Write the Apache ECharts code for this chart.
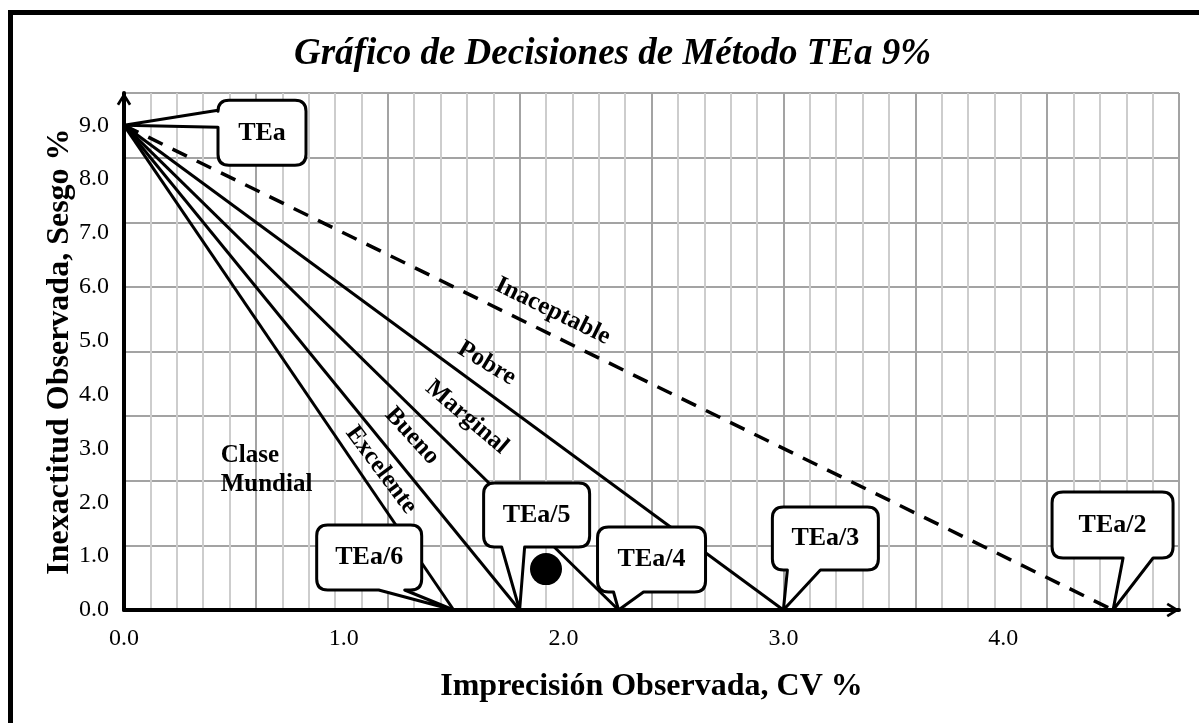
<!doctype html>
<html lang="es">
<head>
    <meta charset="utf-8">
    <title>Gráfico de Decisiones de Método</title>
    <script src="https://cdn.jsdelivr.net/npm/echarts@6/dist/echarts.min.js"></script>
    <style>
        html, body { margin: 0; padding: 0; background: #fff; }
        #main { width: 1199px; height: 723px; }
    </style>
</head>
<body>
<div id="main"></div>
<script>
    // ---- datos ----
    var tea = 9;                                   // TEa %
    var divisores = [6, 5, 4, 3, 2];               // TEa/6 ... TEa/2
    var textoGlobos = ['TEa', 'TEa/6', 'TEa/5', 'TEa/4', 'TEa/3', 'TEa/2'];
    var zonas = ['Clase\nMundial', 'Excelente', 'Bueno', 'Marginal', 'Pobre', 'Inaceptable'];
    var zonaCV = [0.44, 1.17, 1.31, 1.56, 1.65, 1.95];      // donde va cada rótulo
    var zonaSesgo = [2.60, 2.60, 3.23, 3.58, 4.58, 5.55];
    var puntoCV = [1.92];
    var puntoSesgo = [0.76];
    var xTickLabels = ['0.0', '1.0', '2.0', '3.0', '4.0'];
    var yTickLabels = ['0.0', '1.0', '2.0', '3.0', '4.0', '5.0', '6.0', '7.0', '8.0', '9.0'];

    // ---- maquetación ----
    var SERIF = '"Liberation Serif", "Times New Roman", serif';
    var GRID = {left: 124, top: 93, width: 1055, height: 517};
    var X_MAX = 4.8, Y_MAX = 9.6;
    // globos: desplazamiento de la caja respecto a la punta, tamaño, base de la cola
    var globos = [
        {dx: 94, dy: -25, w: 88, h: 65, b1: -15, b2: 2, lado: 'izq'},
        {dx: -137, dy: -85, w: 105, h: 65, b1: -75, b2: -49, lado: 'abajo'},
        {dx: -36, dy: -127, w: 106, h: 64, b1: -18, b2: 5, lado: 'abajo'},
        {dx: -21, dy: -83, w: 108, h: 65, b1: -5, b2: 25, lado: 'abajo'},
        {dx: -11, dy: -103, w: 106, h: 63, b1: 4, b2: 37, lado: 'abajo'},
        {dx: -61, dy: -118, w: 121, h: 66, b1: 10, b2: 40, lado: 'abajo'}
    ];
    var flecha = 'path://M0,80 L50,0 L100,80 L84,90 L50,34 L16,90 Z';

    var pxX = GRID.width / X_MAX, pxY = GRID.height / Y_MAX;
    function angulo(k) {
        return Math.atan(k * pxY / pxX) * 180 / Math.PI;
    }

    var series = [];
    divisores.forEach(function (k) {
        series.push({
            type: 'line',
            data: [[0, tea], [tea / k, 0]],
            symbol: 'none',
            z: 2,
            lineStyle: {color: '#000', width: k === 2 ? 3.5 : 3, type: k === 2 ? [16, 11] : 'solid'}
        });
    });

    series.push({
        type: 'scatter',
        data: puntoCV.map(function (x, i) { return [x, puntoSesgo[i]]; }),
        symbolSize: 32,
        itemStyle: {color: '#000', opacity: 1},
        z: 3
    });

    series.push({
        type: 'scatter',
        symbolSize: 0,
        z: 5,
        itemStyle: {opacity: 1},
        data: zonas.map(function (nombre, i) {
            var rot = 0;
            if (i === zonas.length - 1) rot = angulo(divisores[i - 1]);
            else if (i > 0) rot = (angulo(divisores[i - 1]) + angulo(divisores[i])) / 2;
            return {
                value: [zonaCV[i], zonaSesgo[i]],
                name: nombre,
                label: i === 0
                    ? {position: 'right', distance: 0, rotate: 0}
                    : {position: 'inside', rotate: -rot}
            };
        }),
        label: {
            show: true,
            formatter: '{b}',
            color: '#000',
            fontFamily: SERIF,
            fontWeight: 'bold',
            fontSize: 25,
            lineHeight: 29
        }
    });

    var puntas = [[0, tea]].concat(divisores.map(function (k) { return [tea / k, 0]; }));

    function globo(params, api) {
        var tip = api.coord([api.value(0), api.value(1)]);
        var g = globos[params.dataIndex];
        var x0 = tip[0] + g.dx, y0 = tip[1] + g.dy, x1 = x0 + g.w, y1 = y0 + g.h, r = 11;
        var d = 'M ' + (x0 + r) + ' ' + y0 + ' L ' + (x1 - r) + ' ' + y0 +
            ' Q ' + x1 + ' ' + y0 + ' ' + x1 + ' ' + (y0 + r) +
            ' L ' + x1 + ' ' + (y1 - r) + ' Q ' + x1 + ' ' + y1 + ' ' + (x1 - r) + ' ' + y1;
        if (g.lado === 'abajo') {
            d += ' L ' + (tip[0] + g.b2) + ' ' + y1 + ' L ' + tip[0] + ' ' + tip[1] +
                ' L ' + (tip[0] + g.b1) + ' ' + y1;
        }
        d += ' L ' + (x0 + r) + ' ' + y1 + ' Q ' + x0 + ' ' + y1 + ' ' + x0 + ' ' + (y1 - r);
        if (g.lado === 'izq') {
            d += ' L ' + x0 + ' ' + (tip[1] + g.b2) + ' L ' + tip[0] + ' ' + tip[1] +
                ' L ' + x0 + ' ' + (tip[1] + g.b1);
        }
        d += ' L ' + x0 + ' ' + (y0 + r) + ' Q ' + x0 + ' ' + y0 + ' ' + (x0 + r) + ' ' + y0 + ' Z';
        return {
            type: 'group',
            children: [{
                type: 'path',
                shape: {pathData: d},
                style: {fill: '#fff', stroke: '#000', lineWidth: 3, lineJoin: 'round'}
            }, {
                type: 'text',
                style: {
                    text: textoGlobos[params.dataIndex],
                    x: (x0 + x1) / 2,
                    y: (y0 + y1) / 2,
                    align: 'center',
                    verticalAlign: 'middle',
                    fill: '#000',
                    font: 'bold 26px ' + SERIF
                }
            }]
        };
    }

    series.push({
        type: 'custom',
        data: puntas,
        renderItem: globo,
        z: 10,
        clip: false
    });

    var chart = echarts.init(document.getElementById('main'));
    chart.setOption({
        animation: false,
        backgroundColor: '#fff',
        title: {
            text: 'Gráfico de Decisiones de Método TEa 9%',
            left: 289,
            top: 31,
            textStyle: {fontFamily: SERIF, fontSize: 37, fontWeight: 'bold', fontStyle: 'italic', color: '#000'}
        },
        graphic: [{
            type: 'rect',
            shape: {x: 10.5, y: 12.5, width: 1300, height: 800},
            style: {fill: 'none', stroke: '#000', lineWidth: 5},
            z: -1
        }],
        grid: {left: GRID.left, top: GRID.top, width: GRID.width, height: GRID.height, outerBoundsMode: 'none'},
        xAxis: [{
            type: 'value',
            min: 0,
            max: X_MAX,
            interval: 0.6,
            name: 'Imprecisión Observada, CV %',
            nameLocation: 'middle',
            nameGap: 61,
            nameTextStyle: {fontFamily: SERIF, fontSize: 32, fontWeight: 'bold', color: '#000'},
            axisLine: {
                show: true,
                lineStyle: {color: '#000', width: 4},
                symbol: ['none', flecha],
                symbolSize: [16, 13],
                symbolOffset: [0, -6]
            },
            axisTick: {show: false},
            axisLabel: {show: false},
            splitLine: {show: true, lineStyle: {color: '#a3a3a3', width: 2}},
            minorTick: {show: false, splitNumber: 5},
            minorSplitLine: {show: true, lineStyle: {color: '#cdcdcd', width: 2}}
        }, {
            type: 'value',
            position: 'bottom',
            min: 0,
            max: X_MAX,
            interval: 1,
            axisLine: {show: false},
            axisTick: {show: false},
            splitLine: {show: false},
            axisLabel: {
                margin: 17,
                showMaxLabel: false,
                color: '#000',
                fontFamily: SERIF,
                fontSize: 24,
                formatter: function (v) { return xTickLabels[v] || ''; }
            }
        }],
        yAxis: [{
            type: 'value',
            min: 0,
            max: Y_MAX,
            interval: 1.2,
            name: 'Inexactitud Observada, Sesgo %',
            nameLocation: 'middle',
            nameGap: 48,
            nameTextStyle: {fontFamily: SERIF, fontSize: 32, fontWeight: 'bold', color: '#000'},
            axisLine: {
                show: true,
                lineStyle: {color: '#000', width: 4},
                symbol: ['none', flecha],
                symbolSize: [16, 13],
                symbolOffset: [0, -6]
            },
            axisTick: {show: false},
            axisLabel: {show: false},
            splitLine: {show: true, lineStyle: {color: '#a3a3a3', width: 2}}
        }, {
            type: 'value',
            position: 'left',
            min: 0,
            max: Y_MAX,
            interval: 1,
            axisLine: {show: false},
            axisTick: {show: false},
            splitLine: {show: false},
            axisLabel: {
                margin: 15,
                showMaxLabel: false,
                color: '#000',
                fontFamily: SERIF,
                fontSize: 24,
                formatter: function (v) { return yTickLabels[v] || ''; }
            }
        }],
        series: series
    });
</script>
</body>
</html>
